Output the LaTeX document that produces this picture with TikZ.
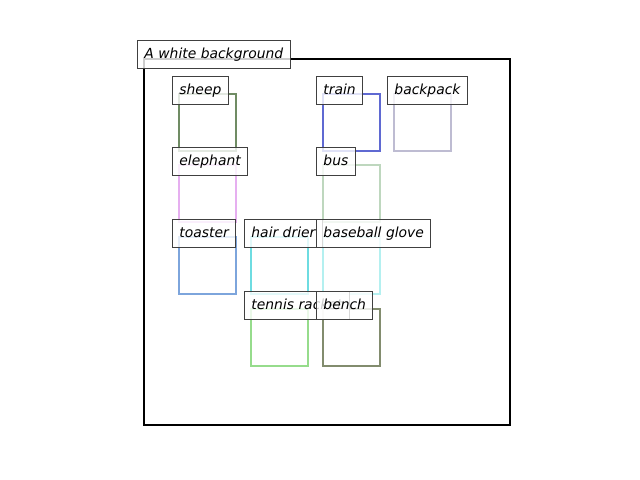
\documentclass[tikz,border=0pt]{standalone}
\usepackage{fontspec}
\setmainfont{DejaVu Sans}
\definecolor{cSheep}{RGB}{112,140,100}
\definecolor{cEleph}{RGB}{230,175,240}
\definecolor{cToast}{RGB}{125,165,220}
\definecolor{cHair}{RGB}{110,220,225}
\definecolor{cGlove}{RGB}{180,240,240}
\definecolor{cBus}{RGB}{190,215,190}
\definecolor{cTrain}{RGB}{95,105,210}
\definecolor{cBack}{RGB}{190,188,210}
\definecolor{cTennis}{RGB}{150,220,140}
\definecolor{cBench}{RGB}{130,140,110}
\tikzset{
  objbox/.style={line width=1.9pt},
  lbl/.style={draw=black!75, line width=0.7pt, fill=white, fill opacity=0.8, text opacity=1,
    anchor=north west, inner xsep=5pt, inner ysep=0pt, minimum height=20.2pt,
    text height=7.6pt, text depth=2.2pt, font=\fontsize{10}{12}\selectfont\itshape}
}
\newcommand{\objbx}[4]{% name, x, y, color
  \draw[objbox,#4] (#2,#3) rectangle ++(57,57);
}
\newcommand{\objlbl}[4]{% name, x, y, text
  \node[lbl] (#1) at (#2-7,#3-18) {#4};
}
\begin{document}
\begin{tikzpicture}[x=0.72pt,y=-0.72pt]
\useasboundingbox (0,0) rectangle (640,480);
\draw[line width=1.5pt,black] (144,59) rectangle (510,425);
\objbx{sheep}{179}{94}{cSheep}
\objbx{train}{323}{94}{cTrain}
\objbx{backpack}{394}{94}{cBack}
\objbx{elephant}{179}{165}{cEleph}
\objbx{bus}{323}{165}{cBus}
\objbx{toaster}{179}{237}{cToast}
\objbx{hair}{251}{237}{cHair}
\objbx{glove}{323}{237}{cGlove}
\objbx{tennis}{251}{309}{cTennis}
\objbx{bench}{323}{309}{cBench}
\node[lbl] (bg) at (137,40) {A white background};
\objlbl{lsheep}{179}{94}{sheep}
\objlbl{ltrain}{323}{94}{train}
\objlbl{lbackpack}{394}{94}{backpack}
\objlbl{lelephant}{179}{165}{elephant}
\objlbl{lbus}{323}{165}{bus}
\objlbl{ltoaster}{179}{237}{toaster}
\objlbl{lhair}{251}{237}{hair drier}
\objlbl{lglove}{323}{237}{baseball glove}
\objlbl{ltennis}{251}{309}{tennis racket}
\objlbl{lbench}{323}{309}{bench}
\end{tikzpicture}
\end{document}
